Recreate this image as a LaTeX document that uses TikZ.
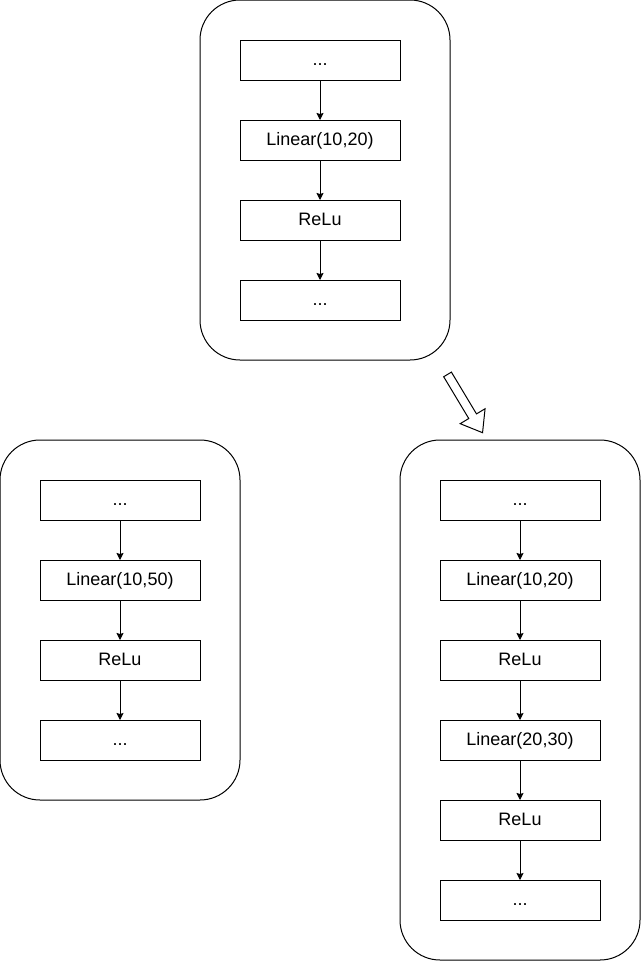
\documentclass[tikz,border=0pt]{standalone}
\usepackage{fontspec}
\setmainfont{Liberation Sans}
\usetikzlibrary{arrows.meta}
\usetikzlibrary{positioning}
\usetikzlibrary{shapes.arrows}

\tikzset{
  layer/.style={draw, minimum width=160pt, minimum height=40pt, outer sep=0pt,
    text height=12pt, text depth=1pt, font=\fontsize{18}{21}\selectfont},
  group/.style={draw, rounded corners=40pt, outer sep=0pt},
  flow/.style={-{Stealth[length=7pt,width=7pt,inset=1pt]}},
}

\begin{document}
\begin{tikzpicture}[x=1pt, y=-1pt, node distance=40pt, line width=1pt]
    \useasboundingbox (0,0) rectangle (641,961);

    % containers
    \node[group, minimum width=250pt, minimum height=360pt] (orig) at (325,180) {};
    \node[group, minimum width=240pt, minimum height=360pt] (wide) at (120,620) {};
    \node[group, minimum width=240pt, minimum height=520pt] (deep) at (520,700) {};

    % original network
    \node[layer] (o1) at (320,60) {...};
    \node[layer, below=of o1] (o2) {Linear(10,20)};
    \node[layer, below=of o2] (o3) {ReLu};
    \node[layer, below=of o3] (o4) {...};

    % wider network
    \node[layer] (w1) at (120,500) {...};
    \node[layer, below=of w1] (w2) {Linear(10,50)};
    \node[layer, below=of w2] (w3) {ReLu};
    \node[layer, below=of w3] (w4) {...};

    % deeper network
    \node[layer] (d1) at (520,500) {...};
    \node[layer, below=of d1] (d2) {Linear(10,20)};
    \node[layer, below=of d2] (d3) {ReLu};
    \node[layer, below=of d3] (d4) {Linear(20,30)};
    \node[layer, below=of d4] (d5) {ReLu};
    \node[layer, below=of d5] (d6) {...};

    \foreach \a/\b in {o1/o2, o2/o3, o3/o4, w1/w2, w2/w3, w3/w4,
                       d1/d2, d2/d3, d3/d4, d4/d5, d5/d6}
      \draw[flow] (\a) -- (\b);

    % hollow arrow
    \node[draw, single arrow, rotate=-59, minimum height=68pt,
      inner sep=4pt, single arrow head extend=10pt, single arrow tip angle=74]
      (hint) at (463.5,401) {};
\end{tikzpicture}
\end{document}
